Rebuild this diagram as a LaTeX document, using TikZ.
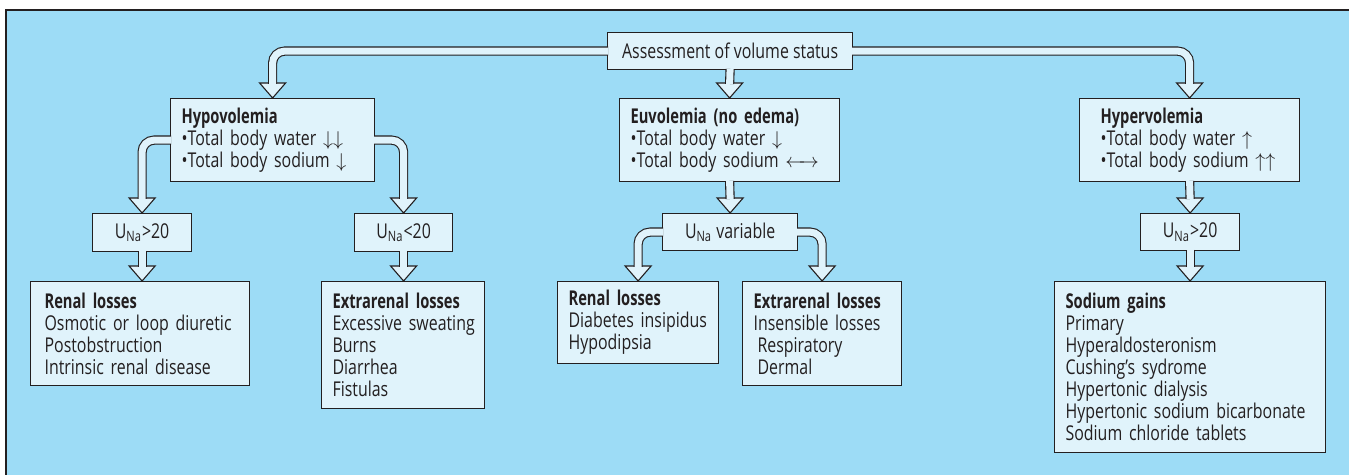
\documentclass[tikz,border=0pt]{standalone}
\usepackage{fontspec}
\setmainfont{Open Sans}[FakeStretch=0.78, BoldFeatures={FakeStretch=0.72}]

\definecolor{skyback}{RGB}{157,220,246}
\definecolor{boxfill}{RGB}{224,243,251}
\definecolor{ink}{RGB}{35,31,32}

\begin{document}
\begin{tikzpicture}[
    x = 0.5pt, y = -0.5pt,
    font = \fontsize{10.2}{11}\selectfont,
    box/.style={draw=ink, fill=boxfill, line width=0.6pt, text=ink, anchor=north west, inner xsep=5.5pt, inner ysep=0pt,
        execute at begin node={\parindent=0pt\rightskip=-60pt plus 1fil\relax}},
    label/.style={draw=ink, fill=boxfill, line width=0.6pt, text=ink, anchor=north west, inner sep=0pt},
    shaft/.style={draw=ink, line width=0.55pt, double=boxfill, double distance=3.5pt, rounded corners=6pt},
    tip/.style={draw=ink, fill=boxfill, line width=0.55pt, line join=miter}
]
    \useasboundingbox (0,0) rectangle (1349,475);

    % Background
    \fill[skyback] (6,10) rectangle (1349,475);
    \draw[ink, line width=0.6pt] (6,475) -- (6,10) -- (1349,10);

    % Assessment
    \node (assess) at (607,32) [label, minimum width=122.5pt, minimum height=18.5pt] {Assessment of volume status};

    % Hypovolemia
    \node (hypo) at (170,98) [box, text width=91pt, minimum height=41.5pt]
        {\textbf{Hypovolemia}\\•Total body water $\downarrow\downarrow$\\•Total body sodium $\downarrow$};

    % Euvolemia
    \node (euvo) at (619,98) [box, text width=99pt, minimum height=41.5pt]
        {\textbf{Euvolemia (no edema)}\\•Total body water $\downarrow$\\•Total body sodium $\leftarrow\!\!\rightarrow$};

    % Hypervolemia
    \node (hyper) at (1079,98) [box, inner xsep=10.5pt, text width=89pt, minimum height=41.5pt]
        {\textbf{Hypervolemia}\\•Total body water $\uparrow$\\•Total body sodium $\uparrow\uparrow$};

    % Urine sodium
    \node (unaA) at (92,213) [label, minimum width=49.5pt, minimum height=19pt] {U\textsubscript{Na}>20};
    \node (unaB) at (354,213) [label, minimum width=49pt, minimum height=19pt] {U\textsubscript{Na}<20};
    \node (unaC) at (662,213) [label, minimum width=67.5pt, minimum height=18.5pt] {U\textsubscript{Na} variable};
    \node (unaD) at (1140,213) [label, minimum width=49.5pt, minimum height=18.5pt] {U\textsubscript{Na}>20};

    % Causes
    \node (renalA) at (30,281) [box, inner xsep=7pt, text width=95.5pt, minimum height=52pt]
        {\textbf{Renal losses}\\Osmotic or loop diuretic\\Postobstruction\\Intrinsic renal disease};
    \node (extraA) at (321,281) [box, text width=70.5pt, minimum height=63.5pt]
        {\textbf{Extrarenal losses}\\Excessive sweating\\Burns\\Diarrhea\\Fistulas};
    \node (renalB) at (557,281) [box, text width=69.5pt, minimum height=41pt]
        {\textbf{Renal losses}\\Diabetes insipidus\\Hypodipsia};
    \node (extraB) at (742,281) [box, text width=68.5pt, minimum height=52pt]
        {\textbf{Extrarenal losses}\\Insensible losses\\\hspace*{2pt}Respiratory\\\hspace*{2pt}Dermal};
    \node (gains) at (1054,281) [box, text width=124.5pt, minimum height=85.5pt]
        {\textbf{Sodium gains}\\Primary\\Hyperaldosteronism\\Cushing's sydrome\\Hypertonic dialysis\\Hypertonic sodium bicarbonate\\Sodium chloride tablets};

    % Arrow heads
    \draw[tip] (hypo.north) -- ++(-6.5pt,7.5pt) -- ++(13pt,0pt) -- cycle;
    \draw[tip] (euvo.north) -- ++(-6.5pt,7.5pt) -- ++(13pt,0pt) -- cycle;
    \draw[tip] (hyper.north) -- ++(-6.5pt,7.5pt) -- ++(13pt,0pt) -- cycle;
    \draw[tip] (unaA.north) -- ++(-6.5pt,7.5pt) -- ++(13pt,0pt) -- cycle;
    \draw[tip] (unaB.north) -- ++(-6.5pt,7.5pt) -- ++(13pt,0pt) -- cycle;
    \draw[tip] (unaC.north) -- ++(-6.5pt,7.5pt) -- ++(13pt,0pt) -- cycle;
    \draw[tip] (unaD.north) -- ++(-6.5pt,7.5pt) -- ++(13pt,0pt) -- cycle;
    \draw[tip] (unaA.south |- renalA.north) -- ++(-6.5pt,7.5pt) -- ++(13pt,0pt) -- cycle;
    \draw[tip] (unaB.south |- extraA.north) -- ++(-6.5pt,7.5pt) -- ++(13pt,0pt) -- cycle;
    \draw[tip] (renalB.north) -- ++(-6.5pt,7.5pt) -- ++(13pt,0pt) -- cycle;
    \draw[tip] (extraB.north) -- ++(-6.5pt,7.5pt) -- ++(13pt,0pt) -- cycle;
    \draw[tip] (gains.north) -- ++(-6.5pt,7.5pt) -- ++(13pt,0pt) -- cycle;

    % Arrow shafts
    \draw[shaft] ([xshift=0.6pt]assess.west) -| ([yshift=7pt]hypo.north);
    \draw[shaft] ([xshift=-0.6pt]assess.east) -| ([yshift=7pt]hyper.north);
    \draw[shaft] ([yshift=0.6pt]assess.south) -- ([yshift=7pt]euvo.north);
    \draw[shaft] ([xshift=0.6pt]hypo.west) -| ([yshift=7pt]unaA.north);
    \draw[shaft] ([xshift=-0.6pt]hypo.east) -| ([yshift=7pt]unaB.north);
    \draw[shaft] ([yshift=0.6pt]euvo.south) -- ([yshift=7pt]unaC.north);
    \draw[shaft] ([yshift=0.6pt]hyper.south) -- ([yshift=7pt]unaD.north);
    \draw[shaft] ([yshift=0.6pt]unaA.south) -- ([yshift=7pt]unaA.south |- renalA.north);
    \draw[shaft] ([yshift=0.6pt]unaB.south) -- ([yshift=7pt]unaB.south |- extraA.north);
    \draw[shaft] ([xshift=0.6pt]unaC.west) -| ([yshift=7pt]renalB.north);
    \draw[shaft] ([xshift=-0.6pt]unaC.east) -| ([yshift=7pt]extraB.north);
    \draw[shaft] ([yshift=0.6pt]unaD.south) -- ([yshift=7pt]gains.north);
\end{tikzpicture}
\end{document}
